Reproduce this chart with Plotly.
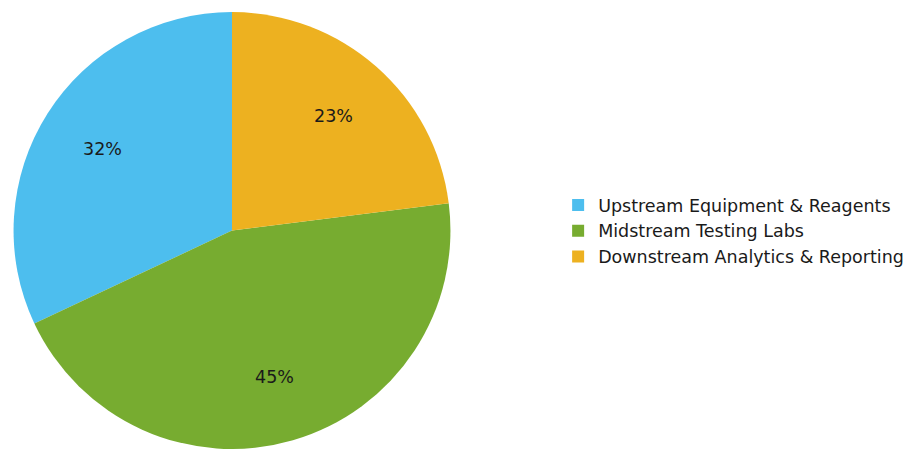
import math
import plotly.graph_objects as go

labels = ["Upstream Equipment & Reagents", "Midstream Testing Labs", "Downstream Analytics & Reporting"]
values = [32, 45, 23]
colors = ["#4DBEEE", "#77AC30", "#EDB120"]

W, H = 921, 449
dom_x = [13 / W, 451 / W]
dom_y = [0.0, 0.973]

total = sum(values)
# plotly's counterclockwise pies place the first slice ending at `rotation`;
# shift so the first slice starts at 12 o'clock and runs counterclockwise
rotation = -360.0 * values[0] / total

fig = go.Figure(
    go.Pie(
        labels=labels,
        values=values,
        sort=False,
        direction="counterclockwise",
        rotation=rotation,
        marker=dict(colors=colors, line=dict(width=0)),
        textinfo="none",
        domain=dict(x=dom_x, y=dom_y),
        hoverinfo="label+percent",
    )
)

# percent labels at 0.7 radius along each slice's mid-angle (counterclockwise from 12 o'clock)
cx = (dom_x[0] + dom_x[1]) / 2
cy = (dom_y[0] + dom_y[1]) / 2
r_px = min((dom_x[1] - dom_x[0]) * W, (dom_y[1] - dom_y[0]) * H) / 2
cum = 0.0
for v in values:
    mid = (cum + v / 2) / total
    cum += v
    ang = 2 * math.pi * mid
    dx = -math.sin(ang) * 0.7 * r_px
    dy = math.cos(ang) * 0.7 * r_px
    fig.add_annotation(
        x=cx + dx / W,
        y=cy + dy / H,
        xref="paper",
        yref="paper",
        text=f"{v / total:.0%}",
        showarrow=False,
        xanchor="center",
        yanchor="middle",
        font=dict(family="DejaVu Sans", size=17.5, color="#1a1a1a"),
    )

fig.update_layout(
    width=W,
    height=H,
    margin=dict(l=0, r=0, t=0, b=0),
    paper_bgcolor="white",
    plot_bgcolor="white",
    font=dict(family="DejaVu Sans", size=17.5, color="#1a1a1a"),
    showlegend=True,
    legend=dict(
        x=0.606,
        y=0.4855,
        xanchor="left",
        yanchor="middle",
        font=dict(family="DejaVu Sans", size=17.5, color="#1a1a1a"),
        bgcolor="rgba(0,0,0,0)",
    ),
)

fig.write_html("out.html")
